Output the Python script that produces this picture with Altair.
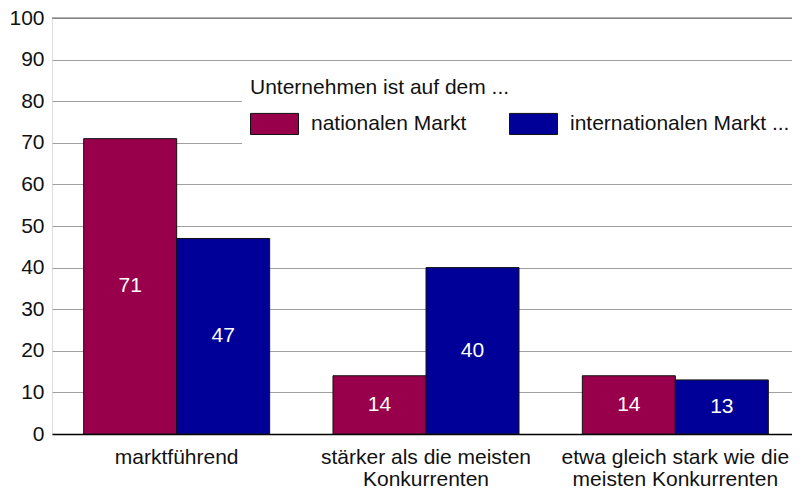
import altair as alt
import pandas as pd

categories = ["marktführend", "stärker als die meisten|Konkurrenten", "etwa gleich stark wie die|meisten Konkurrenten"]
series = ["nationalen Markt", "internationalen Markt ..."]
national = [71, 14, 14]
international = [47, 40, 13]
colors = ["#99004c", "#000099"]

rows = []
for c, v in zip(categories, national):
    rows.append({"cat": c, "ser": series[0], "val": v})
for c, v in zip(categories, international):
    rows.append({"cat": c, "ser": series[1], "val": v})
df = pd.DataFrame(rows)

FONT = "Liberation Sans"
FS = 21

x = alt.X("cat:N", sort=categories, title=None,
          scale=alt.Scale(paddingInner=0.254, paddingOuter=0.127, range=[0, 748]),
          axis=alt.Axis(labelExpr="split(datum.label, '|')", labelAngle=0, ticks=False,
                        labelPadding=12, labelFontSize=FS, labelLineHeight=22,
                        labelLimit=400, labelColor="#111", domainColor="#000",
                        domainWidth=1.5, labelFont=FONT))
xo = alt.XOffset("ser:N", sort=series)

base = alt.Chart(df)

bars = base.mark_bar(stroke="#111", strokeWidth=1, opacity=1).encode(
    x=x, xOffset=xo,
    y=alt.Y("val:Q", title=None,
            scale=alt.Scale(domain=[0, 100], nice=False),
            axis=alt.Axis(values=list(range(0, 101, 10)), ticks=False, domain=False,
                          labelPadding=8, labelFontSize=FS, labelColor="#111",
                          gridColor="#a0a0a0", gridWidth=1.2, labelFont=FONT)),
    fill=alt.Fill("ser:N", sort=series,
                  scale=alt.Scale(domain=series, range=colors),
                  legend=alt.Legend(title="Unternehmen ist auf dem ...", orient="none",
                                    legendX=190, legendY=51, direction="horizontal",
                                    fillColor="white", padding=8,
                                    symbolType="M-1,-0.44H1V0.44H-1Z", symbolSize=2304,
                                    symbolStrokeColor="#111", symbolStrokeWidth=1,
                                    symbolOpacity=1, labelFontSize=FS, titleFontSize=FS,
                                    titleFontWeight="normal", titleFont=FONT, labelFont=FONT,
                                    labelColor="#111", titleColor="#111",
                                    labelOffset=12, columnPadding=40, titlePadding=1,
                                    labelLimit=400, titleLimit=500)),
)

texts = base.mark_text(color="white", fontSize=FS, font=FONT, baseline="middle").encode(
    x=x, xOffset=xo,
    y=alt.Y("mid:Q"),
    text="val:Q",
).transform_calculate(mid="datum.val / 2")

top = alt.Chart(pd.DataFrame({"v": [100]})).mark_rule(color="#666", strokeWidth=1.2).encode(y="v:Q")

chart = alt.layer(bars, texts, top).properties(
    width=740, height=416,
    autosize=alt.AutoSizeParams(type="none"),
    padding={"left": 44, "top": 10, "right": 0, "bottom": 53},
).configure_view(stroke=None).configure(font=FONT)

chart.save("out.html", embed_options={"renderer": "svg", "actions": False})
